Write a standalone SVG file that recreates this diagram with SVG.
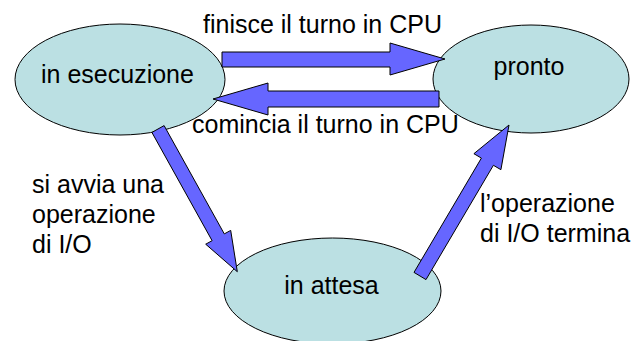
<svg xmlns="http://www.w3.org/2000/svg" width="632" height="341" viewBox="0 0 632 341">
  <style>
    .node ellipse { fill: #BBE0E3; stroke: #000; stroke-width: 1; }
    .arrow { fill: #6666FF; stroke: #000; stroke-width: 1; stroke-linejoin: miter; }
    text { font-family: "Liberation Sans", Arial, sans-serif; font-size: 25px; fill: #000; }
    .c { text-anchor: middle; }
  </style>
  <rect width="632" height="341" fill="#fff"/>
  <g id="node-esecuzione" class="node">
    <ellipse cx="120" cy="79.5" rx="105" ry="55.5"/>
    <text class="c" x="117.5" y="83">in esecuzione</text>
  </g>
  <g id="node-pronto" class="node">
    <ellipse cx="531" cy="79" rx="98" ry="54"/>
    <text class="c" x="529" y="75">pronto</text>
  </g>
  <g id="node-attesa" class="node">
    <ellipse cx="332.5" cy="291" rx="108.5" ry="53"/>
    <text class="c" x="331.5" y="294">in attesa</text>
  </g>
  <g id="connectors">
    <polygon class="arrow" points="222,52 390,52 390,43 445,59 390,75 390,67 222,67"/>
    <polygon class="arrow" points="439,91 268,91 268,83 213,99 268,115 268,107 439,107"/>
    <polygon class="arrow" points="164.1,125.6 224.3,233.9 230.7,230.4 237.3,271.7 205.7,244.2 212.1,240.7 151.9,132.4"/>
    <polygon class="arrow" points="414,272.4 481.4,158.1 473.9,153.7 509,125 500.9,169.7 493.4,165.3 426,279.6"/>
  </g>
  <g id="labels">
    <text x="203" y="33">finisce il turno in CPU</text>
    <text x="192" y="133">comincia il turno in CPU</text>
    <text x="32" y="193">si avvia una</text>
    <text x="32" y="223">operazione</text>
    <text x="32" y="253">di I/O</text>
    <text x="480" y="212">l’operazione</text>
    <text x="480" y="242">di I/O termina</text>
  </g>
</svg>
